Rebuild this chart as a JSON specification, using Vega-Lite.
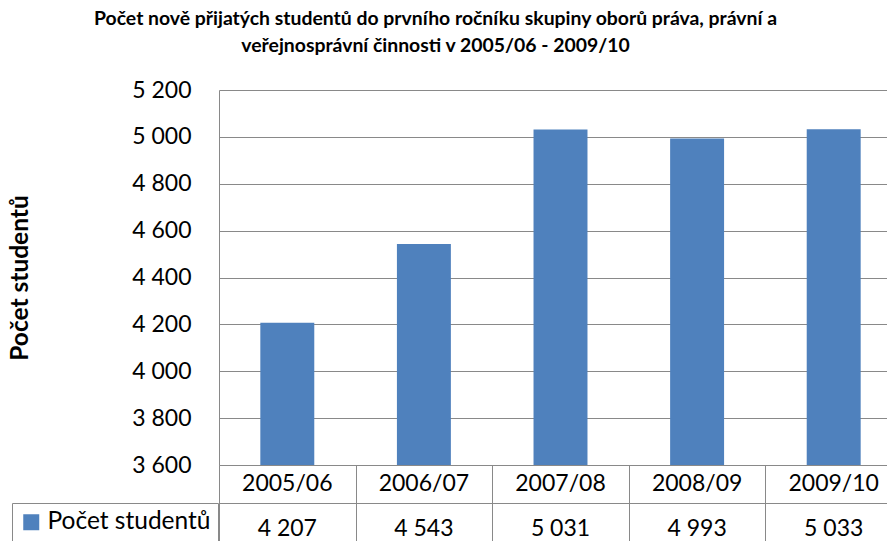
{
  "$schema": "https://vega.github.io/schema/vega-lite/v6.json",
  "background": "white",
  "padding": {"left": 6, "top": 8, "right": 0, "bottom": 0},
  "bounds": "flush",
  "title": {
    "text": ["Počet  nově přijatých studentů do prvního ročníku skupiny oborů práva, právní a", "veřejnosprávní činnosti v 2005/06 - 2009/10"],
    "font": "Lato",
    "fontSize": 19.4,
    "fontWeight": "bold",
    "color": "black",
    "anchor": "middle",
    "lineHeight": 27,
    "offset": 23,
    "dx": -19
  },
  "data": {
    "values": [
      {"year": "2005/06", "value": 4207},
      {"year": "2006/07", "value": 4543},
      {"year": "2007/08", "value": 5031},
      {"year": "2008/09", "value": 4993},
      {"year": "2009/10", "value": 5033}
    ]
  },
  "spacing": 0,
  "vconcat": [
    {
      "width": 683,
      "height": 375,
      "mark": {"type": "bar", "clip": true},
      "encoding": {
        "x": {
          "field": "year",
          "type": "nominal",
          "sort": null,
          "axis": null,
          "scale": {"paddingInner": 0.605, "paddingOuter": 0.3025}
        },
        "y": {
          "field": "value",
          "type": "quantitative",
          "scale": {"domain": [3600, 5200], "nice": false, "zero": false},
          "axis": {
            "values": [3600, 3800, 4000, 4200, 4400, 4600, 4800, 5000, 5200],
            "format": ",d",
            "labelFont": "Lato",
            "labelFontSize": 23,
            "labelColor": "black",
            "labelPadding": 28,
            "ticks": false,
            "domainColor": "#898989",
            "gridColor": "#898989",
            "title": "Počet studentů",
            "titleFont": "Lato",
            "titleFontSize": 24.5,
            "titleFontWeight": "bold",
            "titleColor": "black",
            "titleX": -199,
            "titleY": 187.5,
            "titleAngle": -90,
            "titleAlign": "center",
            "titleBaseline": "middle"
          }
        },
        "color": {
          "datum": "Počet studentů",
          "type": "nominal",
          "scale": {"range": ["#4F81BD"]},
          "legend": {
            "orient": "none",
            "legendX": -207,
            "legendY": 413,
            "title": null,
            "symbolType": "square",
            "symbolSize": 256,
            "symbolStrokeWidth": 0,
            "labelFont": "Lato",
            "labelFontSize": 24.5,
            "labelColor": "black",
            "labelLimit": 400,
            "padding": 7,
            "labelOffset": 4,
            "strokeColor": "#898989",
            "fillColor": "white",
            "cornerRadius": 0
          }
        }
      }
    },
    {
      "width": 683,
      "height": 76,
      "encoding": {
        "x": {
          "field": "year",
          "type": "nominal",
          "sort": null,
          "scale": {"type": "band", "paddingInner": 0, "paddingOuter": 0},
          "axis": {"grid": true, "tickBand": "extent", "labels": false, "ticks": false, "domain": false, "title": null, "gridColor": "#898989", "gridOpacity": 1}
        },
        "y": {
          "datum": "Rok",
          "type": "nominal",
          "scale": {"type": "band", "domain": ["Rok", "Počet studentů"], "paddingInner": 0, "paddingOuter": 0},
          "axis": {"grid": true, "tickBand": "extent", "labels": false, "ticks": false, "domain": false, "title": null, "gridColor": "#898989", "gridOpacity": 1}
        }
      },
      "layer": [
        {
          "mark": {"type": "text", "font": "Lato", "fontSize": 23, "color": "black", "baseline": "middle"},
          "encoding": {
            "text": {"field": "year"}
          }
        },
        {
          "mark": {"type": "text", "font": "Lato", "fontSize": 23, "color": "black", "baseline": "middle", "dy": 7},
          "encoding": {
            "y": {"datum": "Počet studentů", "type": "nominal"},
            "text": {"field": "value", "type": "quantitative", "format": ",d"}
          }
        }
      ]
    }
  ],
  "config": {
    "locale": {"number": {"decimal": ",", "thousands": " ", "grouping": [3], "currency": ["", " Kč"]}},
    "view": {"stroke": null}
  }
}
